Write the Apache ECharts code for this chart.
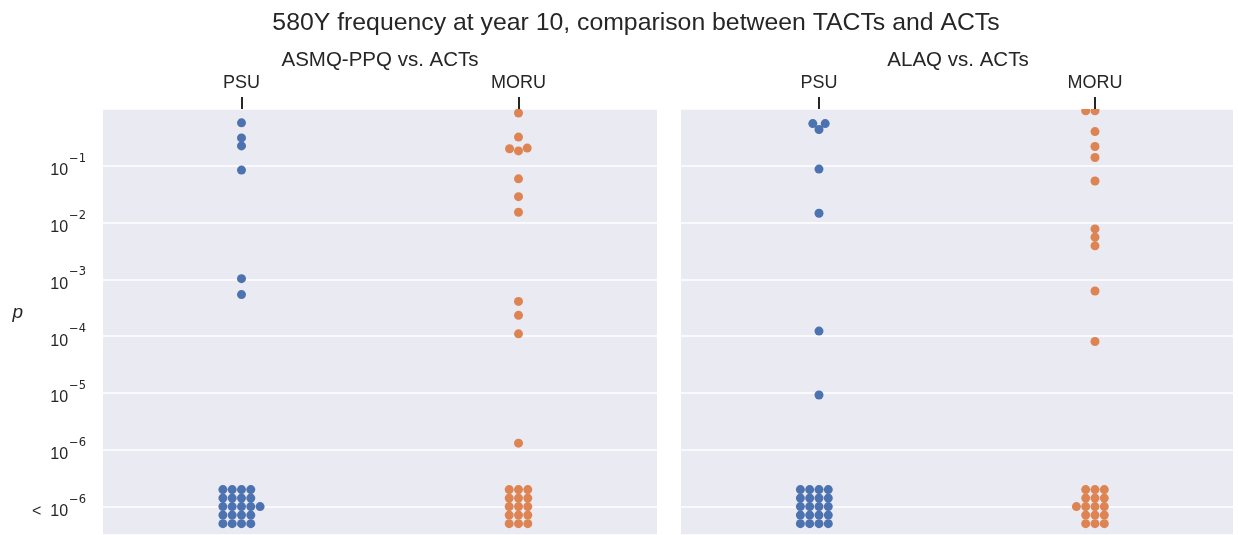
<!DOCTYPE html>
<html>
<head>
<meta charset="utf-8">
<script src="https://cdn.jsdelivr.net/npm/echarts@6/dist/echarts.min.js"></script>
<style>
  html, body { margin: 0; padding: 0; background: #ffffff; }
  #chart { width: 1238px; height: 535px; }
</style>
</head>
<body>
<div id="chart"></div>
<script>
// Sites on each panel's x axis
const sites = ['PSU', 'MORU'];
const panelTitles = ['ASMQ-PPQ vs. ACTs', 'ALAQ vs. ACTs'];
const mainTitle = '580Y frequency at year 10, comparison between TACTs and ACTs';

// y axis works in -log10(p); tick labels indexed by tick value
const yTickBase = ['', '10', '10', '10', '10', '10', '10', '<  10', ''];
const yTickExp  = ['', '−1', '−2', '−3', '−4', '−5', '−6', '−6', ''];

// p-values that were resolved above the detection floor
const asmqPsuP  = [0.57, 0.31, 0.224, 0.084, 1.03e-3, 5.4e-4];
const asmqMoruP = [0.85, 0.32, 0.20, 0.183, 0.205, 0.059, 0.0286, 0.0152, 4.1e-4, 2.33e-4, 1.1e-4, 1.31e-6];
const alaqPsuP  = [0.554, 0.554, 0.435, 0.0875, 0.0146, 1.23e-4, 9.2e-6];
const alaqMoruP = [0.93, 0.93, 0.40, 0.219, 0.140, 0.054, 7.75e-3, 5.54e-3, 3.9e-3, 6.25e-4, 8.07e-5];

// "< 10^-6" results: stacked rows inside that band (-log10 position) and count per row
const floorRows     = [6.70, 6.85, 7.0, 7.15, 7.30];
const asmqPsuFloor  = [4, 4, 5, 4, 4];
const asmqMoruFloor = [3, 3, 3, 3, 3];
const alaqPsuFloor  = [4, 4, 4, 4, 4];
const alaqMoruFloor = [3, 3, 4, 3, 3];

const groups = [
  { grid: 0, site: 0, p: asmqPsuP,  floor: asmqPsuFloor,  color: '#4C72B0' },
  { grid: 0, site: 1, p: asmqMoruP, floor: asmqMoruFloor, color: '#DD8452' },
  { grid: 1, site: 0, p: alaqPsuP,  floor: alaqPsuFloor,  color: '#4C72B0' },
  { grid: 1, site: 1, p: alaqMoruP, floor: alaqMoruFloor, color: '#DD8452' }
];

const TEXT = '#262626';
const PANEL_BG = '#EAEAF2';
const DOT = 9;          // marker diameter (px)
const GAP_X = 9.3;      // horizontal spacing between neighbouring markers
const GAP_Y = 8.0;      // vertical distance below which markers collide
const PANEL_TOP = 109;

const chart = echarts.init(document.getElementById('chart'), null, { renderer: 'canvas' });

function yAxisFor(idx, showLabels) {
  return {
    type: 'value', gridIndex: idx, inverse: true, min: 0, max: 7.5, interval: 1,
    name: showLabels ? 'p' : '',
    nameLocation: 'middle', nameRotate: 0, nameGap: 80,
    nameTextStyle: { fontFamily: 'Liberation Sans', fontStyle: 'italic', fontSize: 19, color: TEXT, verticalAlign: 'bottom' },
    axisLine: { show: false }, axisTick: { show: false },
    splitLine: { show: true, lineStyle: { color: '#ffffff', width: 1.5 } },
    axisLabel: {
      show: showLabels, margin: 17,
      formatter: function (v) {
        const i = Math.round(v);
        if (Math.abs(v - i) > 1e-9 || !yTickBase[i]) return '';
        return '{b|' + yTickBase[i] + '}{s|' + yTickExp[i] + '}';
      },
      rich: {
        b: { fontFamily: 'Liberation Sans', fontSize: 16, color: TEXT, padding: [10, 1, 0, 0] },
        s: { fontFamily: 'DejaVu Sans', fontSize: 11.5, color: TEXT, verticalAlign: 'top' }
      }
    }
  };
}

function xAxisFor(idx) {
  return {
    type: 'category', gridIndex: idx, data: sites, position: 'top', boundaryGap: true, z: 10,
    axisLine: { show: false },
    axisTick: { show: true, alignWithLabel: true, length: 12, lineStyle: { color: TEXT, width: 2 } },
    axisLabel: { margin: 17, fontFamily: 'Liberation Sans', fontSize: 18, color: TEXT },
    splitLine: { show: false }
  };
}

const option = {
  backgroundColor: '#ffffff',
  animation: false,
  title: [
    { text: mainTitle, left: 631, textAlign: 'center', top: 6, z: 10,
      textStyle: { fontFamily: 'Liberation Sans', fontWeight: 'normal', fontSize: 24.8, color: TEXT } },
    { text: panelTitles[0], left: 375, textAlign: 'center', top: 45, z: 10,
      textStyle: { fontFamily: 'Liberation Sans', fontWeight: 'normal', fontSize: 20.5, color: TEXT } },
    { text: panelTitles[1], left: 953, textAlign: 'center', top: 45, z: 10,
      textStyle: { fontFamily: 'Liberation Sans', fontWeight: 'normal', fontSize: 20.5, color: TEXT } }
  ],
  grid: [
    { left: 103, right: 581, top: PANEL_TOP, bottom: 0, show: true, backgroundColor: PANEL_BG, borderWidth: 0 },
    { left: 681, right: 5, top: PANEL_TOP, bottom: 0, show: true, backgroundColor: PANEL_BG, borderWidth: 0 }
  ],
  xAxis: [xAxisFor(0), xAxisFor(1)],
  yAxis: [yAxisFor(0, true), yAxisFor(1, false)],
  // white strip keeps markers sitting on the top edge clipped to the panel
  graphic: [
    { type: 'rect', z: 5, shape: { x: 103, y: PANEL_TOP - 8, width: 554, height: 8 }, style: { fill: '#ffffff' } },
    { type: 'rect', z: 5, shape: { x: 681, y: PANEL_TOP - 8, width: 552, height: 8 }, style: { fill: '#ffffff' } }
  ],
  series: []
};

chart.setOption(option);

// Beeswarm placement: each point takes the horizontal offset nearest the
// category centre that does not overlap any already placed point
// (elliptical footprint GAP_X by GAP_Y).
function swarm(points) {
  const placed = [];
  const hit = (ddx, ddy) => (ddx * ddx) / (GAP_X * GAP_X) + (ddy * ddy) / (GAP_Y * GAP_Y) < 1 - 1e-6;
  points.sort((a, b) => b.py - a.py);
  points.forEach(pt => {
    const cands = [0];
    placed.forEach(q => {
      const dy = Math.abs(pt.py - q.py);
      if (dy < GAP_Y) {
        const dx = GAP_X * Math.sqrt(1 - (dy * dy) / (GAP_Y * GAP_Y));
        cands.push(q.dx - dx, q.dx + dx);
      }
    });
    cands.sort((a, b) => (Math.abs(a) - Math.abs(b)) || (a - b));
    for (const c of cands) {
      if (placed.every(q => !hit(c - q.dx, pt.py - q.py))) { pt.dx = c; break; }
    }
    placed.push(pt);
  });
  return points;
}

const series = groups.map(g => {
  const pts = [];
  g.p.forEach(p => pts.push({ v: -Math.log10(p) }));
  g.floor.forEach((n, r) => { for (let k = 0; k < n; k++) pts.push({ v: floorRows[r] }); });
  pts.forEach(pt => { pt.py = chart.convertToPixel({ yAxisIndex: g.grid }, pt.v); pt.dx = 0; });
  swarm(pts);
  return {
    type: 'scatter', xAxisIndex: g.grid, yAxisIndex: g.grid, z: 2,
    symbol: 'circle', symbolSize: DOT, clip: false,
    itemStyle: { color: g.color, opacity: 1 },
    data: pts.map(pt => ({ value: [g.site, pt.v], symbolOffset: [pt.dx, 0] }))
  };
});

chart.setOption({ series: series });
</script>
</body>
</html>
